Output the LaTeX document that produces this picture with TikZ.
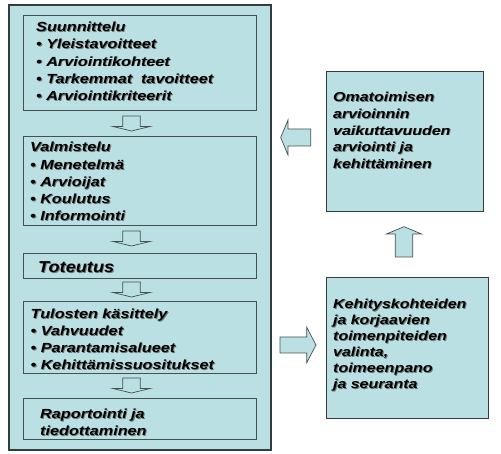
\documentclass[tikz,border=0pt]{standalone}
\usepackage{fontspec}
\setmainfont{Liberation Sans}[FakeStretch=1.23]
\newfontfamily\totfont{Liberation Sans}[FakeStretch=1.15]
\usetikzlibrary{calc}
\definecolor{boxfill}{RGB}{187,224,227}
\definecolor{outerline}{RGB}{50,62,62}
\definecolor{innerline}{RGB}{70,80,80}
\definecolor{shadowc}{RGB}{110,120,120}
\newcommand\sh[1]{\leavevmode\rlap{\kern0.9pt\raisebox{-0.9pt}{\textcolor{shadowc}{#1}}}#1}
\tikzset{
  panel/.style={draw=innerline, line width=0.8pt, fill=boxfill, inner sep=0pt, anchor=north west},
  bigpanel/.style={draw=outerline, line width=1.6pt, fill=boxfill, inner sep=0pt, anchor=north west},
  sidepanel/.style={draw=outerline, line width=1.1pt, fill=boxfill, inner sep=0pt, anchor=north west},
  txt/.style={anchor=base west, inner sep=0pt, text width=#1, align=left,
              font=\bfseries\itshape\fontsize{13.2}{17.2}\selectfont},
  txt/.default=230pt,
  blockarrow/.style={draw=innerline, line width=0.7pt, fill=boxfill, line join=miter},
  darr/.pic={\draw[blockarrow] (-8.7,-7.5) -- (8.7,-7.5) -- (8.7,3) -- (18.5,3) -- (0,7.5) -- (-18.5,3) -- (-8.7,3) -- cycle;},
  larr/.pic={\draw[blockarrow] (-15,0) -- (-7.7,-17.5) -- (-7.7,-8.5) -- (15,-8.5) -- (15,8.5) -- (-7.7,8.5) -- (-7.7,17.5) -- cycle;},
  rarr/.pic={\draw[blockarrow] (18,0) -- (8.7,-17.8) -- (8.7,-8) -- (-18,-8) -- (-18,8) -- (8.7,8) -- (8.7,17.8) -- cycle;},
  uarr/.pic={\draw[blockarrow] (0,-15.3) -- (17.5,-8) -- (8.8,-8) -- (8.8,15) -- (-8.8,15) -- (-8.8,-8) -- (-17.5,-8) -- cycle;},
}
\begin{document}
\begin{tikzpicture}[x=1pt,y=-1pt]
\useasboundingbox (0,0) rectangle (501,454);
% outer column
\node[bigpanel, minimum width=262pt, minimum height=445pt] (outer) at (8,4) {};
% inner boxes
\node[panel, minimum width=233pt, minimum height=95pt] (b1) at (23,15) {};
\node[panel, minimum width=233pt, minimum height=89pt] (b2) at (23,136) {};
\node[panel, minimum width=233pt, minimum height=25pt] (b3) at (23,253) {};
\node[panel, minimum width=233pt, minimum height=72pt] (b4) at (23,301) {};
\node[panel, minimum width=233pt, minimum height=41pt] (b5) at (23,398) {};
% right boxes
\node[sidepanel, minimum width=157pt, minimum height=140pt] (r1) at (326,71) {};
\node[sidepanel, minimum width=162pt, minimum height=141pt] (r2) at (326,277) {};
% block arrows
\pic at (131.5,123.5) {darr};
\pic at (131.5,238.5) {darr};
\pic at (131.5,289.5) {darr};
\pic at (131.5,385.5) {darr};
\pic at (295.7,137.5) {larr};
\pic at (298,345) {rarr};
\pic at (404,242) {uarr};
% texts
\node[txt] (t1) at (36,31.7) {\sh{Suunnittelu}\\\sh{• Yleistavoitteet}\\\sh{• Arviointikohteet}\\\sh{• Tarkemmat~ tavoitteet}\\\sh{• Arviointikriteerit}};
\node[txt] (t2) at (30,152) {\sh{Valmistelu}\\\sh{• Menetelmä}\\\sh{• Arvioijat}\\\sh{• Koulutus}\\\sh{• Informointi}};
\node[txt, font=\totfont\bfseries\itshape\fontsize{15.8}{18}\selectfont] (t3) at (38,272.3) {\sh{Toteutus}};
\node[txt] (t4) at (30.5,318.3) {\sh{Tulosten käsittely}\\\sh{• Vahvuudet}\\\sh{• Parantamisalueet}\\\sh{• Kehittämissuositukset}};
\node[txt, font=\bfseries\itshape\fontsize{13.2}{16.7}\selectfont] (t5) at (40,419) {\sh{Raportointi ja}\\\sh{tiedottaminen}};
\node[txt=150pt, font=\bfseries\itshape\fontsize{13}{16.7}\selectfont] (t6) at (333,101.7) {\sh{Omatoimisen}\\\sh{arvioinnin}\\\sh{vaikuttavuuden}\\\sh{arviointi ja}\\\sh{kehittäminen}};
\node[txt=150pt, font=\bfseries\itshape\fontsize{13}{16}\selectfont] (t7) at (333,309) {\sh{Kehityskohteiden}\\\sh{ja korjaavien}\\\sh{toimenpiteiden}\\\sh{valinta,}\\\sh{toimeenpano}\\\sh{ja seuranta}};
\end{tikzpicture}
\end{document}
